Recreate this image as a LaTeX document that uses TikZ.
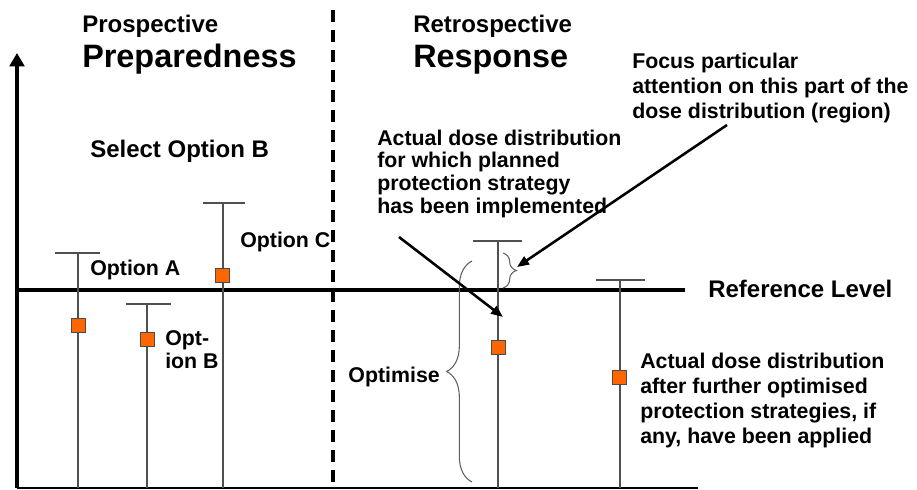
\documentclass[tikz,border=0pt]{standalone}
\usepackage{fontspec}
\setmainfont{Liberation Sans}
\usetikzlibrary{arrows.meta,decorations.pathreplacing}
\definecolor{mk}{HTML}{FF6600}
\definecolor{wh}{HTML}{505050}
\definecolor{br}{HTML}{606060}
\begin{document}
\begin{tikzpicture}[x=0.75pt,y=-0.75pt,
  txt/.style={inner sep=0pt, anchor=base west, align=left},
  small/.style={txt, font=\bfseries\fontsize{16}{17}\selectfont},
  mid/.style={txt, font=\bfseries\fontsize{18}{20}\selectfont},
  big/.style={txt, font=\bfseries\fontsize{24.3}{28}\selectfont},
  marker/.style={draw=black!70, line width=0.6pt, fill=mk, minimum size=10.5pt, inner sep=0pt},
  whisk/.style={draw=wh, line width=0.8pt},
  axis/.style={draw=black, line width=2.3pt},
  callout/.style={draw=black, line width=1.9pt, -{Triangle[length=9pt,width=7pt]}},
  bracestyle/.style={draw=br, line width=0.8pt, decorate}
]
\path[use as bounding box] (0,0) rectangle (917,489);

% axes
\coordinate (origin) at (17,488);
\coordinate (ytop) at (17,53);
\coordinate (xend) at (698,488);
\draw[axis, -{Triangle[length=10pt,width=11pt]}] (origin) -- (ytop);
\draw[draw=black, line width=1.6pt] (origin) -- (xend);

% reference level
\coordinate (refL) at (17,290);
\coordinate (refR) at (685,290);
\draw[draw=black, line width=2.7pt] (refL) -- (refR);

% dashed divider
\coordinate (dtop) at (333,10);
\coordinate (dbot) at (333,489);
\draw[draw=black, line width=2.3pt, dash pattern=on 9pt off 6pt] (dtop) -- (dbot);

% whiskers
\draw[whisk] (55,253) -- (100,253) (78,253) -- (78,488);
\draw[whisk] (126,304) -- (171,304) (147,304) -- (147,488);
\draw[whisk] (203,203) -- (245,203) (223,203) -- (223,488);
\draw[whisk] (473,241) -- (522,241) (498,241) -- (498,488);
\draw[whisk] (596,280) -- (645,280) (620,280) -- (620,488);

% markers
\node[marker] (mA) at (78.5,325) {};
\node[marker] (mB) at (147,339.5) {};
\node[marker] (mC) at (222.5,275) {};
\node[marker] (mR) at (498.5,347) {};
\node[marker] (mF) at (619,377.5) {};

% headers
\node[mid] (pro) at (82,32) {Prospective};
\node[big] (prep) at (82,67) {Preparedness};
\node[mid] (retro) at (413,32) {Retrospective};
\node[big] (resp) at (413,67) {Response};

% labels
\node[mid] (sel) at (90,157) {Select Option B};
\node[small] (optA) at (90,275) {Option A};
\node[small] (optC) at (240,247) {Option C};
\node[small, font=\bfseries\fontsize{16}{17.25}\selectfont] (optB) at (165,368) {Opt-\\ion B};
\node[mid] (ref) at (708,297) {Reference Level};
\node[small, anchor=base east] (optim) at (440,382) {Optimise};

\node[small, font=\bfseries\fontsize{16}{18.75}\selectfont] (focus) at (632,118)
  {Focus particular\\attention on this part of the\\dose distribution (region)};
\node[small, font=\bfseries\fontsize{16}{17}\selectfont] (impl) at (377,213)
  {Actual dose distribution\\for which planned\\protection strategy\\has been implemented};
\node[small, font=\bfseries\fontsize{16}{18.75}\selectfont] (after) at (640,443)
  {Actual dose distribution\\after further optimised\\protection strategies, if\\any, have been applied};

% braces
\coordinate (sbTop) at (503,253);
\coordinate (sbBot) at (503,288);
\draw[bracestyle, decoration={brace, amplitude=10pt}] (sbTop) -- (sbBot);
\coordinate (lbBot) at (472,482);
\coordinate (lbTop) at (472,261);
\draw[bracestyle, decoration={brace, amplitude=19pt}] (lbBot) -- (lbTop);

% callout arrows
\coordinate (a1s) at (399,237);
\coordinate (a1e) at (503,317);
\draw[callout] (a1s) -- (a1e);
\coordinate (a2s) at (727,125);
\coordinate (a2e) at (517,267);
\draw[callout] (a2s) -- (a2e);
\end{tikzpicture}
\end{document}
